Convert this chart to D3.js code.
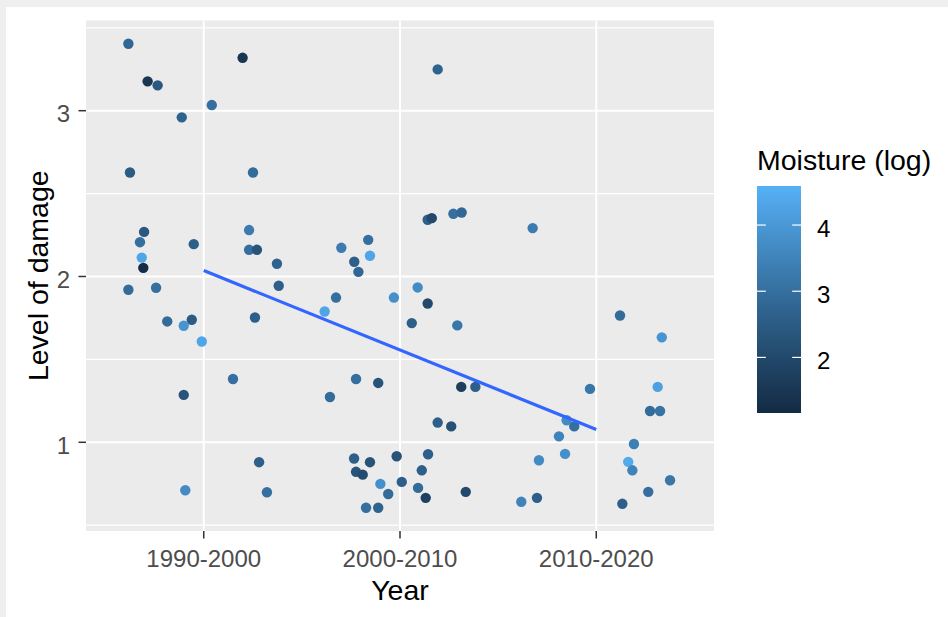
<!DOCTYPE html>
<html>
<head>
<meta charset="utf-8">
<script src="https://cdn.jsdelivr.net/npm/d3@7"></script>
<style>
  html, body { margin: 0; padding: 0; background: #fff; }
  svg { display: block; }
  text { font-family: "Liberation Sans", Arial, sans-serif; }
</style>
</head>
<body>
<svg id="chart" width="948" height="617"></svg>
<script>
// ---------- DATA ----------
const categories = ["1990-2000", "2000-2010", "2010-2020"];
// jittered x position (1 = first category, 2 = second, 3 = third)
const xPos = [
  0.616, 1.198, 0.714, 0.765, 1.041, 0.888, 0.624, 1.251, 0.696, 0.675,
  0.684, 0.692, 0.949, 1.231, 1.231, 1.271, 1.373, 0.616, 0.757, 1.382,
  0.814, 0.939, 0.898, 0.990, 1.261, 1.149, 0.898, 1.282, 0.906, 1.322,
  2.192, 2.141, 2.162, 2.272, 2.314, 1.701, 1.838, 1.847, 1.767, 1.788,
  1.674, 1.616, 1.969, 2.090, 2.141, 2.060, 2.292, 1.776, 1.889, 1.643,
  2.312, 2.384, 2.192, 2.261, 1.766, 1.847, 1.776, 1.810, 1.983, 1.900,
  2.009, 1.940, 1.827, 1.889, 2.143, 2.111, 2.092, 2.131, 2.335,
  2.676, 2.968, 3.121, 3.334, 3.313, 3.274, 3.325, 2.849, 2.888, 2.810,
  2.841, 2.708, 3.192, 3.163, 3.184, 3.376, 3.265, 3.133, 2.618, 2.698
];
// level of damage
const damage = [
  3.404, 3.319, 3.177, 3.153, 3.034, 2.960, 2.627, 2.627, 2.269, 2.207,
  2.114, 2.052, 2.195, 2.280, 2.161, 2.161, 2.077, 1.920, 1.932, 1.944,
  1.729, 1.739, 1.703, 1.608, 1.753, 1.382, 1.286, 0.880, 0.711, 0.699,
  3.249, 2.342, 2.352, 2.378, 2.386, 2.173, 2.221, 2.125, 2.089, 2.028,
  1.873, 1.789, 1.873, 1.934, 1.837, 1.719, 1.705, 1.382, 1.358, 1.273,
  1.334, 1.334, 1.119, 1.096, 0.902, 0.880, 0.822, 0.805, 0.916, 0.749,
  0.761, 0.688, 0.605, 0.605, 0.928, 0.831, 0.725, 0.665, 0.701,
  2.292, 1.322, 1.765, 1.633, 1.334, 1.189, 1.189, 1.133, 1.096, 1.036,
  0.930, 0.892, 0.990, 0.882, 0.831, 0.771, 0.701, 0.629, 0.641, 0.665
];
// moisture (log)
const moisture = [
  2.8, 1.5, 1.5, 2.4, 3.0, 2.7, 2.5, 2.9, 2.4, 3.0,
  4.3, 1.2, 2.6, 3.3, 3.0, 2.3, 2.7, 2.9, 3.0, 2.6,
  2.9, 2.5, 3.9, 4.3, 2.6, 3.0, 2.3, 2.6, 3.7, 3.0,
  2.7, 2.6, 2.0, 3.0, 2.8, 3.3, 3.0, 4.3, 2.6, 2.8,
  3.0, 4.3, 3.8, 3.7, 2.0, 2.6, 3.2, 3.0, 2.3, 2.9,
  1.7, 2.6, 2.6, 2.2, 2.6, 2.3, 2.3, 2.1, 2.3, 3.8,
  2.6, 2.9, 3.0, 2.7, 2.6, 2.6, 2.9, 1.8, 2.0,
  3.3, 3.2, 2.9, 3.9, 4.2, 2.9, 3.1, 3.7, 3.0, 3.5,
  3.8, 3.7, 3.4, 4.4, 3.5, 3.2, 3.0, 2.6, 3.5, 2.6
];
// fitted linear trend (at category 1 and category 3)
const fitX = [1, 3];
const fitY = [2.036, 1.077];

const yTicks = [1, 2, 3];
const yMinor = [0.5, 1.5, 2.5, 3.5];
const legendTicks = [2, 3, 4];
const moistureRange = [1.16, 4.59];

const xTitle = "Year";
const yTitle = "Level of damage";
const legendTitle = "Moisture (log)";

// ---------- LAYOUT ----------
const W = 948, H = 617;
const P = { left: 86, right: 714, top: 20.5, bottom: 531 };
const svg = d3.select("#chart");

// outer frame (screenshot border)
svg.append("rect").attr("x", 0).attr("y", 0).attr("width", W).attr("height", H).attr("fill", "#efefef");
svg.append("rect").attr("x", 6).attr("y", 7).attr("width", W - 6).attr("height", H - 7).attr("fill", "#ffffff");

const x = d3.scaleLinear().domain([0.4, 3.6]).range([P.left, P.right]);
const y = d3.scaleLinear().domain([0.465, 3.544]).range([P.bottom, P.top]);
const color = d3.scaleLinear().domain(moistureRange).range(["#132B43", "#56B1F7"])
  .interpolate(d3.interpolateLab).clamp(true);

// panel
svg.append("rect").attr("x", P.left).attr("y", P.top)
  .attr("width", P.right - P.left).attr("height", P.bottom - P.top).attr("fill", "#EBEBEB");

const grid = svg.append("g");
grid.selectAll(".ymin").data(yMinor.filter(v => y(v) > P.top && y(v) < P.bottom)).enter()
  .append("line").attr("x1", P.left).attr("x2", P.right)
  .attr("y1", d => y(d)).attr("y2", d => y(d))
  .attr("stroke", "#fff").attr("stroke-width", 1.2);
grid.selectAll(".ymaj").data(yTicks).enter()
  .append("line").attr("x1", P.left).attr("x2", P.right)
  .attr("y1", d => y(d)).attr("y2", d => y(d))
  .attr("stroke", "#fff").attr("stroke-width", 2);
grid.selectAll(".xmaj").data(categories).enter()
  .append("line").attr("y1", P.top).attr("y2", P.bottom)
  .attr("x1", (d, i) => x(i + 1)).attr("x2", (d, i) => x(i + 1))
  .attr("stroke", "#fff").attr("stroke-width", 2);

// points
const pts = xPos.map((v, i) => ({ x: v, y: damage[i], m: moisture[i] }));
svg.append("g").selectAll("circle").data(pts).enter().append("circle")
  .attr("cx", d => x(d.x)).attr("cy", d => y(d.y)).attr("r", 5.2)
  .attr("fill", d => color(d.m));

// trend line
const line = d3.line().x(d => x(d[0])).y(d => y(d[1]));
svg.append("path").datum(fitX.map((v, i) => [v, fitY[i]]))
  .attr("d", line).attr("fill", "none").attr("stroke", "#3366FF").attr("stroke-width", 3.2);

// y axis
const yAxis = svg.append("g");
yAxis.selectAll("line").data(yTicks).enter().append("line")
  .attr("x1", P.left - 7.5).attr("x2", P.left).attr("y1", d => y(d)).attr("y2", d => y(d))
  .attr("stroke", "#333333").attr("stroke-width", 1.5);
yAxis.selectAll("text").data(yTicks).enter().append("text")
  .attr("x", 70).attr("y", d => y(d) + 11.5).attr("text-anchor", "end")
  .attr("font-size", 24).attr("fill", "#4D4D4D").text(d => d3.format("d")(d));

// x axis
const xAxis = svg.append("g");
xAxis.selectAll("line").data(categories).enter().append("line")
  .attr("x1", (d, i) => x(i + 1)).attr("x2", (d, i) => x(i + 1))
  .attr("y1", P.bottom).attr("y2", P.bottom + 7.5)
  .attr("stroke", "#333333").attr("stroke-width", 1.5);
xAxis.selectAll("text").data(categories).enter().append("text")
  .attr("x", (d, i) => x(i + 1)).attr("y", 567.3).attr("text-anchor", "middle")
  .attr("font-size", 24).attr("fill", "#4D4D4D").text(d => d);

// axis titles
svg.append("text").attr("x", (P.left + P.right) / 2).attr("y", 600)
  .attr("text-anchor", "middle").attr("font-size", 28.5).attr("fill", "#000").text(xTitle);
svg.append("text").attr("transform", `translate(48,${(P.top + P.bottom) / 2}) rotate(-90)`)
  .attr("text-anchor", "middle").attr("font-size", 28.5).attr("fill", "#000").text(yTitle);

// legend
const L = { x: 757, w: 44, top: 186, bottom: 413 };
svg.append("text").attr("x", L.x).attr("y", 170).attr("font-size", 28.5).attr("fill", "#000").text(legendTitle);
const ly = d3.scaleLinear().domain(moistureRange).range([L.bottom, L.top]);
const defs = svg.append("defs");
const grad = defs.append("linearGradient").attr("id", "mgrad")
  .attr("x1", 0).attr("y1", 1).attr("x2", 0).attr("y2", 0);
d3.range(0, 21).forEach(k => {
  const v = moistureRange[0] + (moistureRange[1] - moistureRange[0]) * k / 20;
  grad.append("stop").attr("offset", k / 20).attr("stop-color", color(v));
});
svg.append("rect").attr("x", L.x).attr("y", L.top).attr("width", L.w).attr("height", L.bottom - L.top)
  .attr("fill", "url(#mgrad)");
const lt = svg.append("g");
legendTicks.forEach(t => {
  lt.append("line").attr("x1", L.x).attr("x2", L.x + L.w / 5).attr("y1", ly(t)).attr("y2", ly(t))
    .attr("stroke", "#fff").attr("stroke-width", 1.2);
  lt.append("line").attr("x1", L.x + L.w - L.w / 5).attr("x2", L.x + L.w).attr("y1", ly(t)).attr("y2", ly(t))
    .attr("stroke", "#fff").attr("stroke-width", 1.2);
  lt.append("text").attr("x", 817).attr("y", ly(t) + 11.5).attr("font-size", 24)
    .attr("fill", "#000").text(t);
});
</script>
</body>
</html>
